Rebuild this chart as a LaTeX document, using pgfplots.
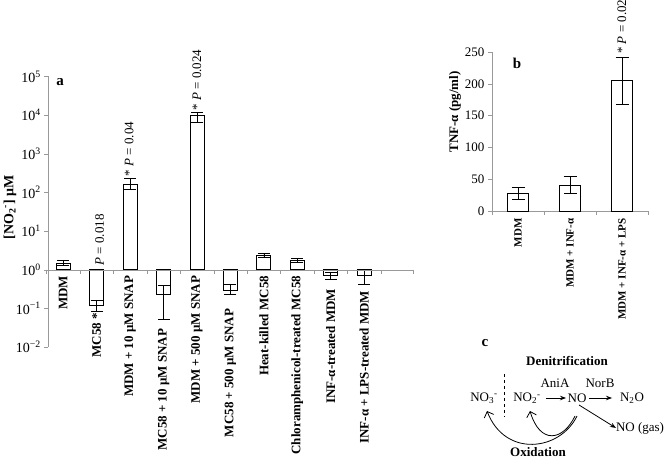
\documentclass[border=0pt]{standalone}
\usepackage{pgfplots}
\pgfplotsset{compat=1.18}
\usepackage{fontspec}
\setmainfont{Liberation Serif}
\usetikzlibrary{arrows.meta}
\newcommand\fs[1]{\fontsize{#1bp}{#1bp}\selectfont}
\newcommand\sub[2]{#1\textsubscript{#2}\textsuperscript{-}}
\begin{document}
\begin{tikzpicture}[x=1bp,y=1bp]
\useasboundingbox (0,0) rectangle (664,463);

% ---------------- Panel a ----------------
\begin{axis}[
  at={(48.2bp,116bp)}, anchor=south west,
  scale only axis, width=364.5bp, height=270.5bp,
  ymode=log, ymin=0.01, ymax=1e5, log origin=0,
  xmin=-0.45, xmax=10.45,
  axis y line=left, axis x line=none,
  y axis line style={-, draw=gray!80},
  ytick={0.01,0.1,1,10,100,1000,10000,100000},
  yticklabels={10\textsuperscript{−2},10\textsuperscript{−1},10\textsuperscript{0},10\textsuperscript{1},10\textsuperscript{2},10\textsuperscript{3},10\textsuperscript{4},10\textsuperscript{5}},
  yticklabel style={font=\fs{14}},
  ytick align=outside, major tick length=4bp,
  ytick style={draw=gray!80},
  yminorticks=false,
  clip=false,
]
\addplot[ybar, bar width=14bp, fill=white, draw=black, line width=0.8pt,
  error bars/.cd, y dir=both, y explicit,
  error bar style={black, line width=0.7pt},
  error mark options={rotate=90, mark size=6bp, black, line width=0.7pt}]
coordinates {
 (0,1.5)   += (0,0.28)  -= (0,0.2)
 (1,0.12)  += (0,0.045) -= (0,0.037)
 (2,160)   += (0,70)    -= (0,38)
 (3,0.235) += (0,0.165) -= (0,0.184)
 (4,10000) += (0,1700)  -= (0,3300)
 (5,0.30)  += (0,0.13)  -= (0,0.074)
 (6,2.4)   += (0,0.3)   -= (0,0.27)
 (7,1.7)   += (0,0.27)  -= (0,0.15)
 (8,0.70)  += (0,0.15)  -= (0,0.125)
 (9,0.73)  += (0,0.3)   -= (0,0.3)
};
\draw[gray!80] (axis cs:-0.45,1) -- (axis cs:10.45,1);
\pgfplotsinvokeforeach{-0.5,0.5,1.5,2.5,3.5,4.5,5.5,6.5,7.5,8.5,9.5,10.45}{
  \draw[gray!80] (axis cs:#1,1) -- ([yshift=-4bp]axis cs:#1,1);
}
% category labels
\def\lab#1#2#3{\node[rotate=90, anchor=east, font=\bfseries\fs{13}, inner sep=0pt] at ([yshift=-#2bp]axis cs:#1,1) {#3};}
\lab{0}{6}{MDM}
\lab{1}{43}{MC58 *}
\lab{2}{6}{MDM + 10 μM SNAP}
\lab{3}{59}{MC58 + 10 μM SNAP}
\lab{4}{6}{MDM + 500 μM SNAP}
\lab{5}{39}{MC58 + 500 μM SNAP}
\lab{6}{6}{Heat-killed MC58}
\lab{7}{6}{Chloramphenicol-treated MC58}
\lab{8}{19}{INF-α-treated MDM}
\lab{9}{21}{INF-α + LPS-treated MDM}
% p values
\node[rotate=90, anchor=west, font=\fs{13}, inner sep=0pt] at ([xshift=3bp,yshift=4bp]axis cs:1,1) {\textit{P} = 0.018};
\node[rotate=90, anchor=west, font=\fs{13}, inner sep=0pt] at ([xshift=-1bp,yshift=2bp]axis cs:2,230) {* \textit{P} = 0.04};
\node[rotate=90, anchor=west, font=\fs{13}, inner sep=0pt] at ([yshift=2bp]axis cs:4,11700) {* \textit{P} = 0.024};
\end{axis}
\node[font=\bfseries\fs{15}] at (60,381) {a};
\node[rotate=90, font=\bfseries\fs{14}] at (10,256) {[\sub{NO}{2}] μM};

% ---------------- Panel b ----------------
\begin{axis}[
  at={(492bp,252bp)}, anchor=south west,
  scale only axis, width=156bp, height=159bp,
  xmin=-0.5, xmax=2.5, ymin=0, ymax=250,
  axis lines=left,
  axis line style={-, draw=gray!80},
  ytick={0,50,100,150,200,250},
  /pgf/number format/assume math mode=true,
  yticklabel style={font=\fs{13}},
  xtick={0,1,2},
  xticklabels={MDM, MDM + INF-α, MDM + INF-α + LPS},
  xticklabel style={rotate=90, anchor=east, font=\bfseries\fs{11}},
  major x tick style={draw=none},
  minor xtick={-0.5,0.5,1.5,2.5},
  tick align=outside, major tick length=4bp, minor tick length=4bp,
  tick style={draw=gray!80},
  clip=false,
]
\addplot[ybar, bar width=21bp, fill=white, draw=black, line width=0.8pt,
  error bars/.cd, y dir=both, y explicit,
  error bar style={black, line width=0.7pt},
  error mark options={rotate=90, mark size=6.5bp, black, line width=0.7pt}]
coordinates {
 (0,28)  +- (0,9)
 (1,41)  +- (0,13)
 (2,205) +- (0,37)
};
\node[rotate=90, anchor=west, font=\fs{13}, inner sep=0pt] at ([yshift=3bp]axis cs:2,242) {* \textit{P} = 0.02};
\end{axis}
\node[font=\bfseries\fs{15}] at (517,400) {b};
\node[rotate=90, font=\bfseries\fs{13}] at (455,351) {TNF-α (pg/ml)};

% ---------------- Panel c ----------------
\node[font=\bfseries\fs{15}] at (485,120) {c};
\node[font=\bfseries\fs{13}] at (567,102) {Denitrification};
\draw[dashed, line width=0.8pt] (504,89) -- (504,46);
\node[font=\fs{13}, inner sep=1bp] at (484,65) {\sub{NO}{3}};
\node[font=\fs{13}, inner sep=1bp] at (527,65) {\sub{NO}{2}};
\node[font=\fs{13}, inner sep=1bp] at (577,65) {NO};
\node[font=\fs{13}, inner sep=1bp] at (632,65) {N\textsubscript{2}O};
\node[font=\fs{13}] at (555,80) {AniA};
\node[font=\fs{13}] at (600,80) {NorB};
\node[font=\fs{13}] at (640,35) {NO (gas)};
\draw[-{Stealth[length=6bp]}, line width=0.8pt] (546,65) -- (566,65);
\draw[-{Stealth[length=6bp]}, line width=0.8pt] (589,65) -- (612,65);
\draw[-{Stealth[length=6bp]}, line width=0.8pt] (579,58) -- (616,35);
\draw[-{Straight Barb[length=5bp,width=10bp]}, line width=0.8pt] (577,47) .. controls (560,12) and (505,5) .. (487,52);
\draw[-{Straight Barb[length=5bp,width=10bp]}, line width=0.8pt] (575,47) .. controls (563,22) and (540,18) .. (530,52);
\node[font=\bfseries\fs{13}] at (538,11) {Oxidation};
\end{tikzpicture}
\end{document}
